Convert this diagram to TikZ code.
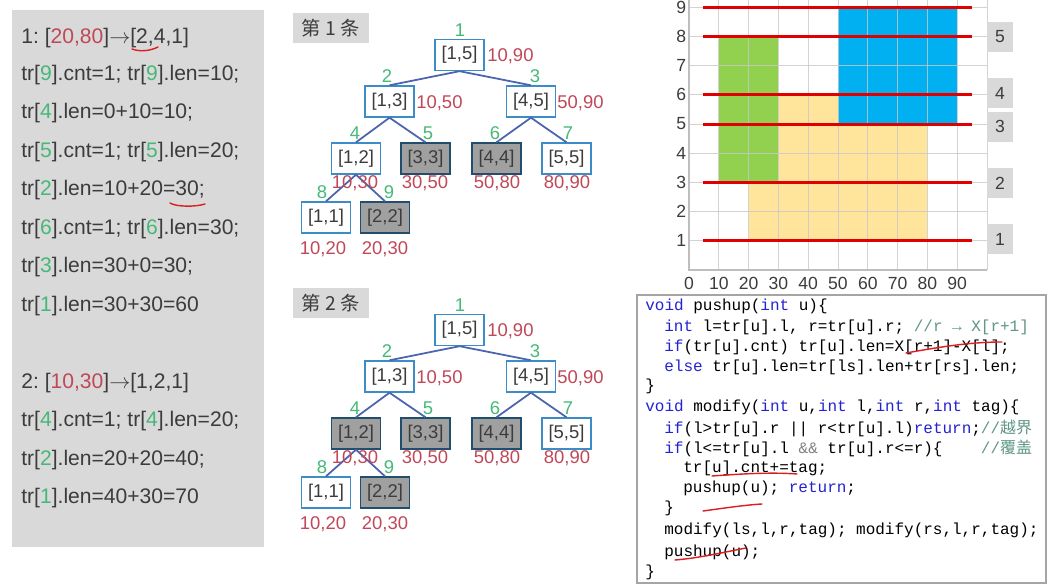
\documentclass[tikz,border=0pt]{standalone}
\usepackage{fontspec}
\setmainfont{Liberation Sans}
\setmonofont{Liberation Mono}
\newfontfamily\cjk{Noto Sans CJK SC}
\frenchspacing

\definecolor{numred}{RGB}{192,72,88}
\definecolor{idxgreen}{RGB}{70,185,120}
\definecolor{panelgray}{RGB}{217,217,217}
\definecolor{boxblue}{RGB}{60,140,200}
\definecolor{edgeblue}{RGB}{75,100,175}
\definecolor{hitgray}{RGB}{160,160,160}
\definecolor{txtgray}{RGB}{60,60,60}
\definecolor{kwblue}{RGB}{35,35,210}
\definecolor{cmtgreen}{RGB}{95,150,135}
\definecolor{fillyellow}{RGB}{255,228,155}
\definecolor{fillgreen}{RGB}{146,208,80}
\definecolor{fillblue}{RGB}{0,176,240}
\definecolor{scanred}{RGB}{225,0,0}
\definecolor{inkred}{RGB}{220,30,30}

\newcommand\redv[1]{\textcolor{numred}{#1}}
\newcommand\grnv[1]{\textcolor{idxgreen}{#1}}
\newcommand\kwd[1]{\textcolor{kwblue}{#1}}
\newcommand\cmt[1]{\textcolor{cmtgreen}{#1}}

\tikzset{
  stepline/.style={anchor=west, inner sep=0pt, text=txtgray, font=\fontsize{12}{14}\selectfont},
  seg/.style={draw=boxblue, thick, minimum width=0.98cm, minimum height=0.62cm, inner sep=0pt, text=txtgray, font=\fontsize{10.5}{12}\selectfont},
  idx/.style={text=idxgreen, inner sep=0pt, font=\fontsize{10.5}{12}\selectfont},
  val/.style={text=numred, inner sep=0pt, font=\fontsize{10.5}{12}\selectfont},
  treeedge/.style={edgeblue, line width=1pt},
  roundtag/.style={fill=panelgray, minimum width=1.52cm, minimum height=0.6cm, inner sep=0pt, font=\cjk\fontsize{11}{13}\selectfont, text=txtgray},
  gridln/.style={draw={rgb,255:red,200;green,200;blue,200}, line width=0.5pt, draw opacity=0.8},
  axisln/.style={draw={rgb,255:red,190;green,190;blue,190}, line width=0.6pt},
  scanln/.style={scanred, line width=1.7pt},
  tick/.style={inner sep=0pt, text=txtgray, font=\fontsize{10}{11}\selectfont},
  evbox/.style={fill=panelgray, minimum width=0.52cm, minimum height=0.6cm, inner sep=0pt, text=txtgray, font=\fontsize{10}{11}\selectfont},
  codeln/.style={anchor=west, inner sep=0pt, font=\ttfamily\fontsize{9.1}{11}\selectfont},
  ink/.style={inkred, line width=0.8pt, line cap=round}
}

\begin{document}
\begin{tikzpicture}[x=0.02cm, y=-0.02cm]
  \useasboundingbox[fill=white] (0,0) rectangle (1052,588);

  % steps of the two updates
  \fill[panelgray] (12,10) rectangle (264,547);
  \node[stepline] (l1) at (21,38) {1: [\redv{20,80}]\(\rightarrow\)[2,4,1]};
  \node[stepline] (l2) at (21,75) {tr[\grnv{9}].cnt=1; tr[\grnv{9}].len=10;};
  \node[stepline] (l3) at (21,113) {tr[\grnv{4}].len=0+10=10;};
  \node[stepline] (l4) at (21,152) {tr[\grnv{5}].cnt=1; tr[\grnv{5}].len=20;};
  \node[stepline] (l5) at (21,190) {tr[\grnv{2}].len=10+20=30;};
  \node[stepline] (l6) at (21,229) {tr[\grnv{6}].cnt=1; tr[\grnv{6}].len=30;};
  \node[stepline] (l7) at (21,267) {tr[\grnv{3}].len=30+0=30;};
  \node[stepline] (l8) at (21,306) {tr[\grnv{1}].len=30+30=60};
  \node[stepline] (l9) at (21,383) {2: [\redv{10,30}]\(\rightarrow\)[1,2,1]};
  \node[stepline] (l10) at (21,421) {tr[\grnv{4}].cnt=1; tr[\grnv{4}].len=20;};
  \node[stepline] (l11) at (21,460) {tr[\grnv{2}].len=20+20=40;};
  \node[stepline] (l12) at (21,498) {tr[\grnv{1}].len=40+30=70};
  \draw[ink] (132,49) .. controls (140,52) and (150,51) .. (158,47);
  \draw[ink] (170,203) .. controls (176,207) and (196,207) .. (205,204);

  % segment trees
  \foreach \t/\dy/\fourfill/\fourdraw in {1/0/white/boxblue, 2/275/hitgray/boxblue!55!black} {
    \begin{scope}[shift={(0,\dy)}]
      \node[roundtag] (t\t-tag) at (331,28) {第 \t{} 条};
      \node[seg, fill=white] (t\t-n1) at (459.5,55) {[1,5]};
      \node[seg, fill=white] (t\t-n2) at (389.5,101.5) {[1,3]};
      \node[seg, fill=white] (t\t-n3) at (531,101.5) {[4,5]};
      \node[seg, fill=\fourfill, draw=\fourdraw] (t\t-n4) at (356,158.5) {[1,2]};
      \node[seg, fill=hitgray, draw=boxblue!55!black] (t\t-n5) at (425.5,158.5) {[3,3]};
      \node[seg, fill=hitgray, draw=boxblue!55!black] (t\t-n6) at (496.5,158.5) {[4,4]};
      \node[seg, fill=white] (t\t-n7) at (566.5,158.5) {[5,5]};
      \node[seg, fill=white] (t\t-n8) at (326,217.5) {[1,1]};
      \node[seg, fill=hitgray, draw=boxblue!55!black] (t\t-n9) at (385,217.5) {[2,2]};
      \foreach \p/\c in {1/2,1/3,2/4,2/5,3/6,3/7,4/8,4/9}
        \draw[treeedge] (t\t-n\p.south) -- (t\t-n\c.north);
      \node[idx] (t\t-i1) at (460,30) {1};
      \node[idx] (t\t-i2) at (387,76) {2};
      \node[idx] (t\t-i3) at (535,76) {3};
      \node[idx] (t\t-i4) at (355,133) {4};
      \node[idx] (t\t-i5) at (428,133) {5};
      \node[idx] (t\t-i6) at (495,133) {6};
      \node[idx] (t\t-i7) at (568,133) {7};
      \node[idx] (t\t-i8) at (322,192) {8};
      \node[idx] (t\t-i9) at (389,192) {9};
      \node[val, anchor=west] (t\t-v1) at (487,56) {10,90};
      \node[val, anchor=west] (t\t-v2) at (416,103) {10,50};
      \node[val, anchor=west] (t\t-v3) at (557,103) {50,90};
      \node[val] (t\t-v4) at (355,183) {10,30};
      \node[val] (t\t-v5) at (425,183) {30,50};
      \node[val] (t\t-v6) at (497,183) {50,80};
      \node[val] (t\t-v7) at (567,183) {80,90};
      \node[val] (t\t-v8) at (323,249) {10,20};
      \node[val] (t\t-v9) at (385,249) {20,30};
    \end{scope}
  }

  % scan lines over the rectangles
  \begin{scope}[shift={(689,270)}, x=0.0596cm, y=0.584cm]
    \fill[fillyellow] (20,1) rectangle (80,5);
    \fill[fillyellow] (30,5) rectangle (50,6);
    \fill[fillgreen] (10,3) rectangle (30,8);
    \fill[fillblue] (50,5) rectangle (90,9);
    \foreach \v in {10,20,...,100} \draw[gridln] (\v,0) -- (\v,9.3);
    \foreach \v in {1,...,9} \draw[gridln] (0,\v) -- (100,\v);
    \draw[axisln] (0,9.3) -- (0,0) -- (100,0);
    \foreach \v in {0,10,...,90} \node[tick] (xt\v) at (\v,-0.45) {\v};
    \foreach \v in {1,...,9} \node[tick, anchor=east] (yt\v) at (-0.8,\v) {\v};
    \foreach \v in {1,3,5,6,8,9} \draw[scanln] (4.7,\v) -- (95,\v);
    \foreach \k/\v in {1/1.06,2/2.98,3/4.9,4/6.05,5/7.98} \node[evbox] (ev\k) at (104.4,\v) {\k};
  \end{scope}

  % code
  \draw[fill=white, draw={rgb,255:red,165;green,165;blue,165}, line width=0.8pt] (637,295) rectangle (1046,583);
  \node[codeln] (c1) at (645,306) {\kwd{void} pushup(\kwd{int} u)\{};
  \node[codeln] (c2) at (664,327) {\kwd{int} l=tr[u].l, r=tr[u].r; \cmt{//r → X[r+1]}};
  \node[codeln] (c3) at (664,347) {\kwd{if}(tr[u].cnt) tr[u].len=X[r+1]-X[l];};
  \node[codeln] (c4) at (664,367) {\kwd{else} tr[u].len=tr[ls].len+tr[rs].len;};
  \node[codeln] (c5) at (645,386) {\}};
  \node[codeln] (c6) at (645,407) {\kwd{void} modify(\kwd{int} u,\kwd{int} l,\kwd{int} r,\kwd{int} tag)\{};
  \node[codeln] (c7) at (664,428) {\kwd{if}(l>tr[u].r || r<tr[u].l)\kwd{return};\cmt{//{\cjk 越界}}};
  \node[codeln] (c8) at (664,448) {\kwd{if}(l<=tr[u].l \textcolor{gray}{\&\&} tr[u].r<=r)\{\hspace*{2.4em}\cmt{//{\cjk 覆盖}}};
  \node[codeln] (c9) at (683,468) {tr[u].cnt+=tag;};
  \node[codeln] (c10) at (683,488) {pushup(u); \kwd{return};};
  \node[codeln] (c11) at (664,508) {\}};
  \node[codeln] (c12) at (664,530) {modify(ls,l,r,tag); modify(rs,l,r,tag);};
  \node[codeln] (c13) at (664,552) {pushup(u);};
  \node[codeln] (c14) at (645,572) {\}};
  \draw[ink] (906,353) .. controls (940,347) and (970,342) .. (1002,342);
  \draw[ink] (712,476) .. controls (740,474) and (770,472) .. (797,474);
  \draw[ink] (703,511) .. controls (725,508) and (745,505) .. (762,504);
  \draw[ink] (675,560) .. controls (700,558) and (725,552) .. (746,548);
\end{tikzpicture}
\end{document}
